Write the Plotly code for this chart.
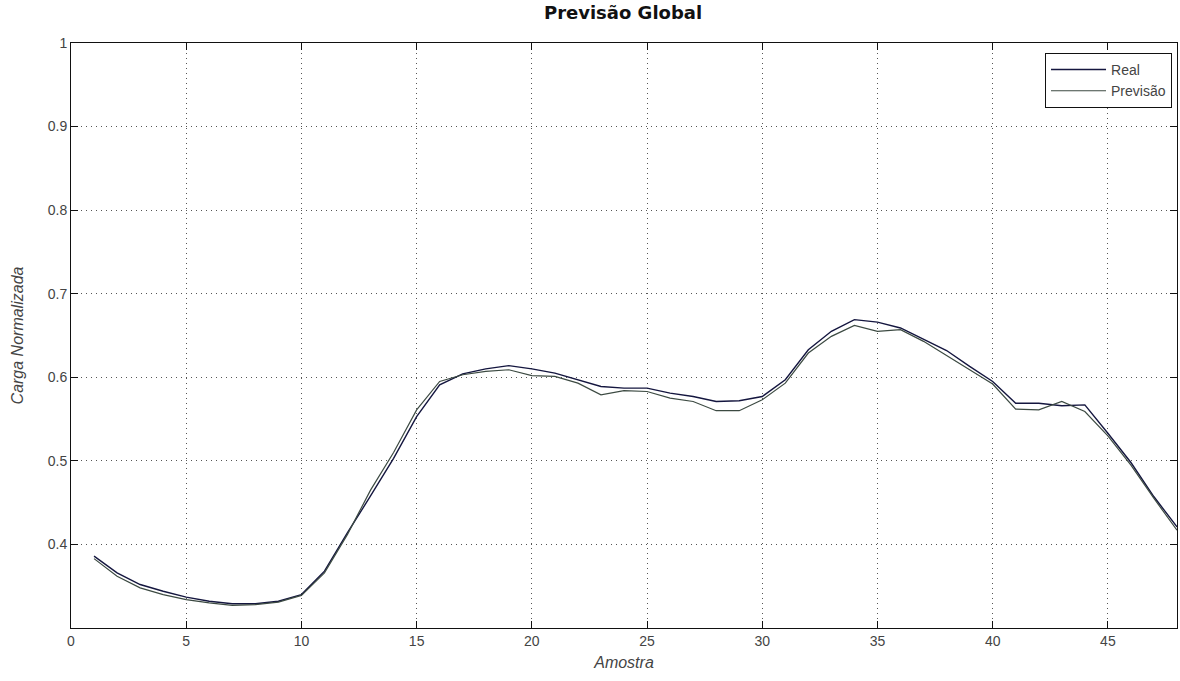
import plotly.graph_objects as go

# Sample index (amostra) and normalized load series
amostra = list(range(1, 49))

real = [0.386, 0.366, 0.352, 0.344, 0.337, 0.332, 0.329, 0.329, 0.332, 0.340,
        0.368, 0.414, 0.458, 0.503, 0.553, 0.591, 0.604, 0.610, 0.614, 0.610,
        0.605, 0.597, 0.589, 0.587, 0.587, 0.581, 0.577, 0.571, 0.572, 0.577,
        0.597, 0.633, 0.655, 0.669, 0.666, 0.659, 0.645, 0.632, 0.613, 0.595,
        0.569, 0.569, 0.566, 0.567, 0.533, 0.498, 0.457, 0.421]

previsao = [0.383, 0.362, 0.348, 0.340, 0.334, 0.330, 0.327, 0.328, 0.331, 0.339,
            0.366, 0.412, 0.465, 0.510, 0.561, 0.595, 0.603, 0.607, 0.609, 0.602,
            0.601, 0.593, 0.579, 0.584, 0.583, 0.575, 0.571, 0.560, 0.560, 0.573,
            0.593, 0.629, 0.649, 0.662, 0.655, 0.657, 0.643, 0.626, 0.609, 0.592,
            0.562, 0.561, 0.571, 0.559, 0.530, 0.495, 0.455, 0.417]

x_ticks = [0, 5, 10, 15, 20, 25, 30, 35, 40, 45]
y_ticks = [0.4, 0.5, 0.6, 0.7, 0.8, 0.9, 1.0]
y_tick_text = ["0.4", "0.5", "0.6", "0.7", "0.8", "0.9", "1"]

FONT = "Liberation Sans, Arial, sans-serif"

fig = go.Figure()
fig.add_trace(go.Scatter(x=amostra, y=real, mode="lines", name="Real",
                         line=dict(color="#14163f", width=1.4)))
fig.add_trace(go.Scatter(x=amostra, y=previsao, mode="lines", name="Previsão",
                         line=dict(color="#3c4a42", width=1.2)))

axis_common = dict(
    showline=True, linecolor="#111111", linewidth=1, mirror="ticks",
    ticks="inside", ticklen=7, tickcolor="#111111",
    showgrid=True, gridcolor="#555555", griddash="1px,4px", gridwidth=1,
    zeroline=False,
    tickfont=dict(family=FONT, size=14, color="#444444"),
)

fig.update_layout(
    width=1180, height=681,
    margin=dict(l=71, r=3, t=43, b=53),
    paper_bgcolor="white", plot_bgcolor="white",
    title=dict(text="<b>Previsão Global</b>", x=0.528, xanchor="center",
               y=0.982, yanchor="middle",
               font=dict(family="DejaVu Sans, sans-serif", size=18,
                         color="#111111")),
    xaxis=dict(range=[0, 48], tickvals=x_ticks,
               title=dict(text="<i>Amostra</i>", standoff=9,
                          font=dict(family=FONT, size=16, color="#444444")),
               **axis_common),
    yaxis=dict(range=[0.3, 1.0], tickvals=y_ticks, ticktext=y_tick_text,
               title=dict(text="<i>Carga Normalizada</i>", standoff=20,
                          font=dict(family=FONT, size=16, color="#444444")),
               **axis_common),
    legend=dict(x=0.9955, y=0.983, xanchor="right", yanchor="top",
                bgcolor="white", bordercolor="#111111", borderwidth=1,
                font=dict(family=FONT, size=14, color="#444444"),
                tracegroupgap=0, itemwidth=55),
    showlegend=True,
)

fig.write_html("out.html")
